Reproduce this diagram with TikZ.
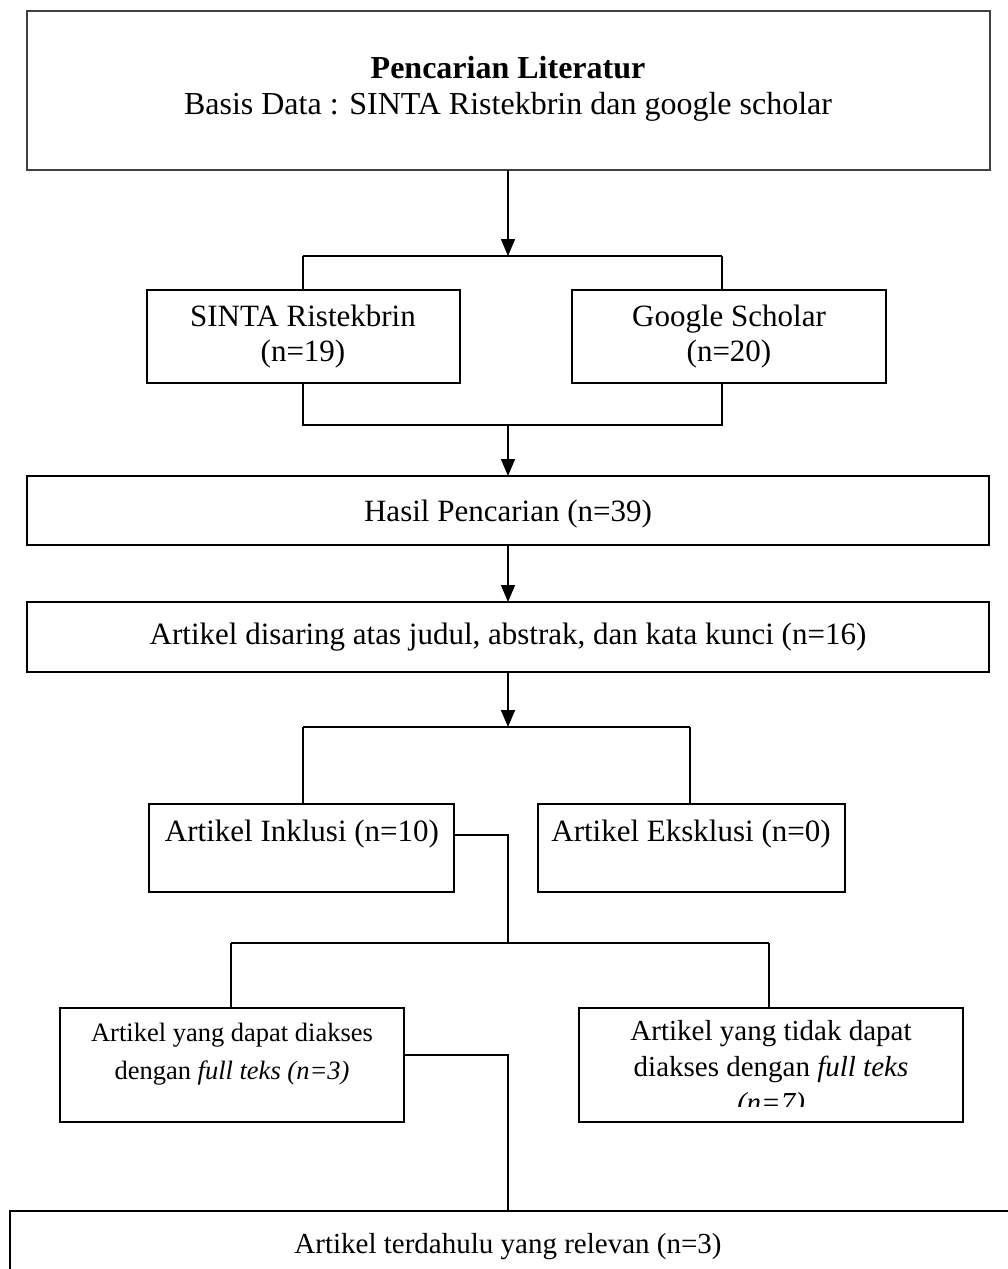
\documentclass[tikz,border=0pt]{standalone}
\usepackage{fontspec}
\setmainfont{Liberation Serif}
\usetikzlibrary{arrows.meta}
\begin{document}
\begin{tikzpicture}[x=1pt,y=-1pt,line width=1.5pt,
  box/.style={draw, anchor=north west, inner sep=0pt, outer sep=0pt},
  lbl/.style={inner sep=0pt, align=center, font=\fontsize{31}{35}\selectfont},
  ttl/.style={inner sep=0pt, align=center, font=\fontsize{32}{36}\selectfont},
  sml/.style={inner sep=0pt, align=center, font=\fontsize{26.5}{38}\selectfont},
  mid/.style={inner sep=0pt, align=center, font=\fontsize{29}{36}\selectfont},
  arr/.style={-{Triangle[width=14pt,length=17pt]}},
  ln/.style={line width=1.5pt}]
\useasboundingbox (0,0) rectangle (1008,1269);
\clip (0,0) rectangle (1008,1269);

% top box
\node[box, draw=black!75, minimum width=963, minimum height=159] (top) at (27,11) {};
\node[ttl] (t1) at (508,89) {\textbf{Pencarian Literatur}\\Basis Data : SINTA Ristekbrin dan google scholar};

% first split
\coordinate (s1) at (508,256);
\coordinate (s1l) at (303,256);
\coordinate (s1r) at (722,256);
\node[box, minimum width=313, minimum height=93] (sinta) at (147,290) {};
\node[box, minimum width=314, minimum height=93] (google) at (572,290) {};
\node[lbl] (sintat) at (303,337) {SINTA Ristekbrin\\(n=19)};
\node[lbl] (googlet) at (729,337) {Google Scholar\\(n=20)};
\draw[arr] (top.south -| s1) -- (s1);
\draw[ln] (s1l) -- (s1r);
\draw[ln] (s1l) -- (s1l |- sinta.north);
\draw[ln] (s1r) -- (s1r |- google.north);

% join
\coordinate (j1) at (508,425);
\coordinate (j1l) at (303,425);
\coordinate (j1r) at (722,425);
\draw[ln] (j1l |- sinta.south) -- (j1l) -- (j1r) -- (j1r |- google.south);

% hasil
\node[box, minimum width=962, minimum height=69] (hasil) at (27,476) {};
\node[lbl] (hasilt) at (508,514) {Hasil Pencarian (n=39)};
\draw[arr] (j1) -- (j1 |- hasil.north);

% disaring
\node[box, minimum width=962, minimum height=70] (disaring) at (27,602) {};
\node[lbl] (disaringt) at (508,637) {Artikel disaring atas judul, abstrak, dan kata kunci (n=16)};
\draw[arr] (hasil.south -| j1) -- (disaring.north -| j1);

% second split
\coordinate (s2) at (508,727);
\coordinate (s2l) at (303,727);
\coordinate (s2r) at (690,727);
\draw[arr] (disaring.south -| s2) -- (s2);
\node[box, minimum width=305, minimum height=88] (inklusi) at (149,804) {};
\node[box, minimum width=307, minimum height=88] (eksklusi) at (538,804) {};
\node[lbl] (inklusit) at (302,834) {Artikel Inklusi (n=10)};
\node[lbl] (eksklusit) at (691,834) {Artikel Eksklusi (n=0)};
\draw[ln] (s2l) -- (s2r);
\draw[ln] (s2l) -- (s2l |- inklusi.north);
\draw[ln] (s2r) -- (s2r |- eksklusi.north);

% third split
\coordinate (c3) at (508,835);
\coordinate (s3) at (508,943);
\coordinate (s3l) at (231,943);
\coordinate (s3r) at (769,943);
\draw[ln] (inklusi.east |- c3) -- (c3) -- (s3);
\node[box, minimum width=344, minimum height=114] (akses) at (60,1008) {};
\node[box, minimum width=384, minimum height=114] (tidak) at (579,1008) {};
\draw[ln] (s3l) -- (s3r);
\draw[ln] (s3l) -- (s3l |- akses.north);
\draw[ln] (s3r) -- (s3r |- tidak.north);
\node[sml] (aksest) at (232,1054) {Artikel yang dapat diakses\\dengan \textit{full teks (n=3)}};
\begin{scope}
  \clip (585,1012) rectangle (958,1106);
  \node[mid, anchor=north] (tidakt) at (771,1020) {Artikel yang tidak dapat\\diakses dengan \textit{full teks}\\\textit{(n=7)}};
\end{scope}

% final
\coordinate (c4) at (508,1055);
\node[box, line width=2.2pt, minimum width=1020, minimum height=90] (relevan) at (10,1211) {};
\node[mid] (relevant) at (508,1247) {Artikel terdahulu yang relevan (n=3)};
\draw[ln] (akses.east |- c4) -- (c4) -- (c4 |- relevan.north);
\end{tikzpicture}
\end{document}
